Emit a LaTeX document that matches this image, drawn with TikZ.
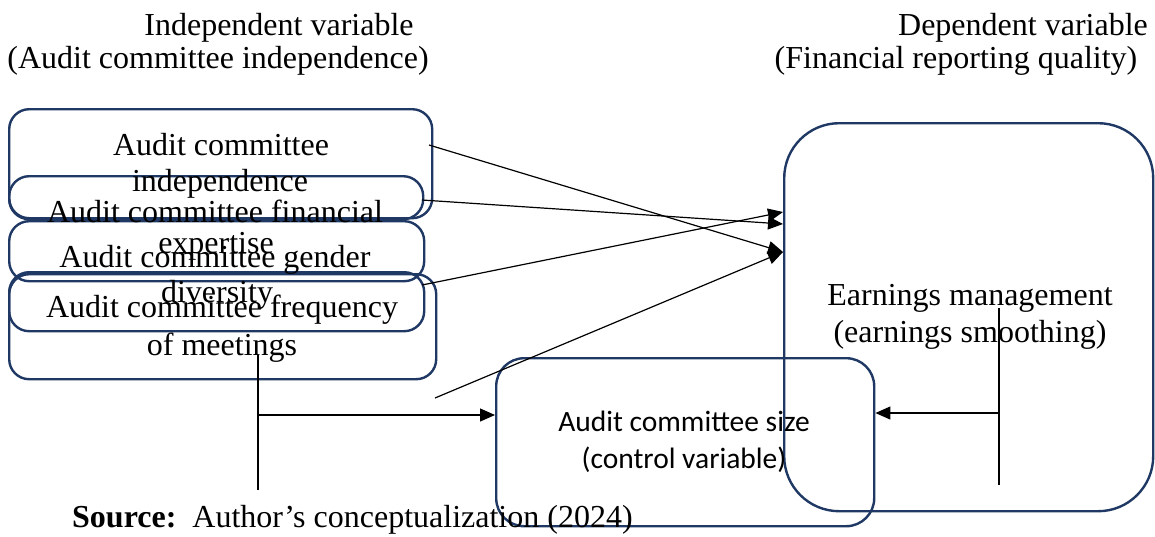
\documentclass[tikz,border=0pt]{standalone}
\usepackage{fontspec}
\setmainfont{Liberation Serif}
\newfontfamily\calibrifont{Carlito}
\usetikzlibrary{arrows.meta}
\definecolor{navy}{RGB}{32,56,100}

\begin{document}
\begin{tikzpicture}[x=1pt,y=-1pt,
  box/.style={draw=navy, line width=2.4pt, rounded corners=20pt, inner sep=0pt,
              anchor=north west},
  lbl/.style={anchor=base, inner sep=0pt, font=\fontsize{32}{38}\selectfont},
  sanslbl/.style={anchor=base, inner sep=0pt, font=\calibrifont\fontsize{29.5}{36}\selectfont},
  conn/.style={line width=1.2pt},
  arr/.style={conn, -{Triangle[length=15pt,width=13pt]}}]

\useasboundingbox (0,0) rectangle (1155,536);

% headings
\node[lbl] (hind)  at (279,35) {Independent variable};
\node[lbl] (hind2) at (218,68) {(Audit committee independence)};
\node[lbl] (hdep)  at (1023,35) {Dependent variable};
\node[lbl] (hdep2) at (956,68) {(Financial reporting quality)};

% left-hand variable boxes
\node[box, minimum width=423pt, minimum height=109pt] (bA) at (8,108) {};
\node[box, minimum width=414pt, minimum height=43pt]  (bB) at (8,175) {};
\node[box, minimum width=415pt, minimum height=60pt]  (bC) at (8,220) {};
\node[box, minimum width=415pt, minimum height=59pt]  (bD) at (8,271) {};
\node[box, minimum width=427pt, minimum height=105pt] (bE) at (8,273) {};

\node[lbl] (tA1) at (221,155) {Audit committee};
\node[lbl] (tA2) at (220,191) {independence};
\node[lbl] (tB1) at (215,222) {Audit committee financial};
\node[lbl] (tB2) at (216,253) {expertise};
\node[lbl] (tC1) at (215,267) {Audit committee gender};
\node[lbl] (tC2) at (217,302) {diversity};
\node[lbl] (tD1) at (222,317) {Audit committee frequency};
\node[lbl] (tD2) at (222,355) {of meetings};

% dependent variable
\node[box, rounded corners=55pt, minimum width=369pt, minimum height=388pt] (em) at (783,122) {};
\node[lbl] (tem1) at (970,305) {Earnings management};
\node[lbl] (tem2) at (970,342) {(earnings smoothing)};

% control variable
\node[box, rounded corners=28pt, minimum width=378pt, minimum height=168pt] (ctl) at (495,357) {};
\node[sanslbl] (tc1) at (684,431) {Audit committee size};
\node[sanslbl] (tc2) at (684,468) {(control variable)};

% connector end points
\coordinate (s1) at (429,145);
\coordinate (s2) at (422,200);
\coordinate (s3) at (422,285);
\coordinate (s4) at (435,398);
\coordinate (e1) at (em.west |- 0,252);
\coordinate (e2) at (em.west |- 0,224);
\coordinate (e3) at (em.west |- 0,212);

\draw[arr] (s1) -- (e1);
\draw[arr] (s2) -- (e2);
\draw[arr] (s3) -- (e3);
\draw[arr] (s4) -- (e1);

% feed into the control variable
\coordinate (v1t) at (258,355);
\coordinate (v1b) at (258,490);
\coordinate (v1m) at (258,415);
\draw[conn] (v1t) -- (v1b);
\draw[arr] (v1m) -- (ctl.west |- v1m);

\coordinate (v2t) at (999,308);
\coordinate (v2b) at (999,485);
\coordinate (v2m) at (999,413);
\draw[conn] (v2t) -- (v2b);
\draw[arr] (v2m) -- (ctl.east |- v2m);

% source line
\node[anchor=base west, inner sep=0pt, font=\fontsize{32}{38}\selectfont] (src) at (72,527)
  {\textbf{Source:}\ \ Author’s conceptualization (2024)};
\end{tikzpicture}
\end{document}
